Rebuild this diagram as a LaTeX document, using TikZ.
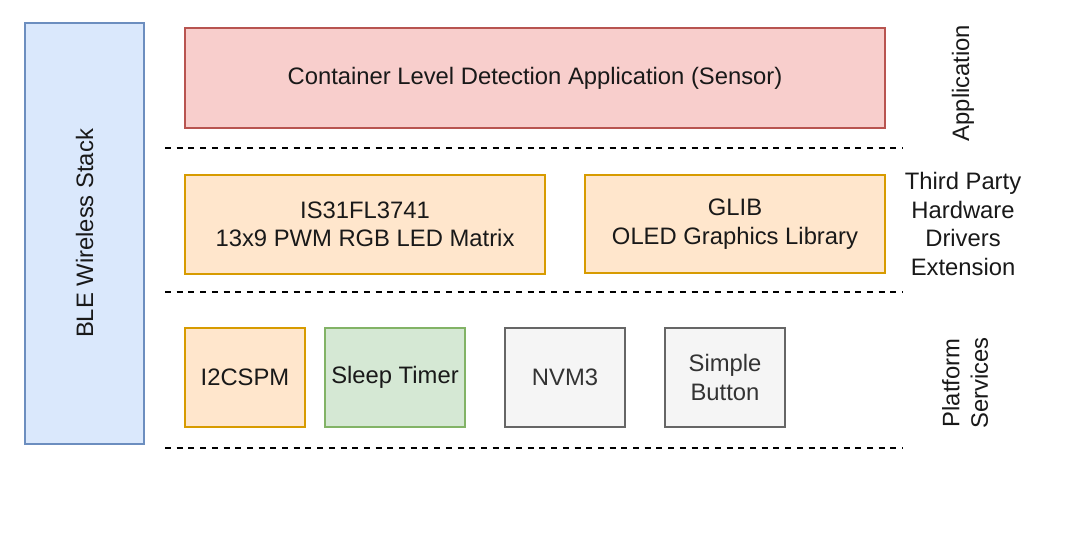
\documentclass[tikz,border=0pt]{standalone}
\usepackage{fontspec}
\setmainfont{Liberation Sans}
\begin{document}
\begin{tikzpicture}[x=1pt,y=-1pt,
  font=\fontsize{23.8}{28.5}\selectfont,
  box/.style={draw, line width=1.4pt, inner sep=0pt, align=center, text=black!90},
  bluebox/.style={box, fill={rgb,255:red,218;green,232;blue,252}, draw={rgb,255:red,108;green,142;blue,191}},
  redbox/.style={box, fill={rgb,255:red,248;green,206;blue,204}, draw={rgb,255:red,184;green,84;blue,80}},
  orangebox/.style={box, fill={rgb,255:red,255;green,230;blue,204}, draw={rgb,255:red,215;green,155;blue,0}},
  greenbox/.style={box, fill={rgb,255:red,213;green,232;blue,212}, draw={rgb,255:red,130;green,179;blue,102}},
  graybox/.style={box, fill={rgb,255:red,245;green,245;blue,245}, draw={rgb,255:red,102;green,102;blue,102}, text={rgb,255:red,51;green,51;blue,51}},
  sep/.style={line width=2pt, dash pattern=on 6pt off 5.7pt},
  layerlabel/.style={align=center, text=black!90}
]
\useasboundingbox[fill=white] (0,0) rectangle (1078,538);

\node[bluebox, minimum width=119pt, minimum height=421pt] (ble) at (84.5,233.5) {};
\node[rotate=90, text=black!90] (bletext) at (ble.center) {BLE Wireless Stack};

\node[redbox, minimum width=700pt, minimum height=100pt] (app) at (535,78) {Container Level Detection Application (Sensor)};

\node[orangebox, minimum width=360pt, minimum height=99pt] (is31) at (365,224.5) {IS31FL3741\\13x9 PWM RGB LED Matrix};
\node[orangebox, minimum width=300pt, minimum height=98pt] (glib) at (735,224) {GLIB\\OLED Graphics Library};

\node[orangebox, minimum width=120pt, minimum height=99pt] (i2c) at (245,377.5) {I2CSPM};
\node[greenbox, minimum width=140pt, minimum height=99pt] (sleep) at (395,377.5) {Sleep Timer};
\node[graybox, minimum width=120pt, minimum height=99pt] (nvm) at (565,377.5) {NVM3};
\node[graybox, minimum width=120pt, minimum height=99pt] (btn) at (725,377.5) {Simple\\Button};

\coordinate (s1a) at (165,148); \coordinate (s1b) at (903,148);
\coordinate (s2a) at (165,292); \coordinate (s2b) at (903,292);
\coordinate (s3a) at (165,448); \coordinate (s3b) at (903,448);
\draw[sep] (s1a) -- (s1b);
\draw[sep] (s2a) -- (s2b);
\draw[sep] (s3a) -- (s3b);

\node[layerlabel, rotate=90] (lapp) at (963,83) {Application};
\node[layerlabel] (ltp) at (963,224) {Third Party\\Hardware\\Drivers\\Extension};
\node[layerlabel, rotate=90] (lps) at (965,383) {Platform\\Services};
\end{tikzpicture}
\end{document}
